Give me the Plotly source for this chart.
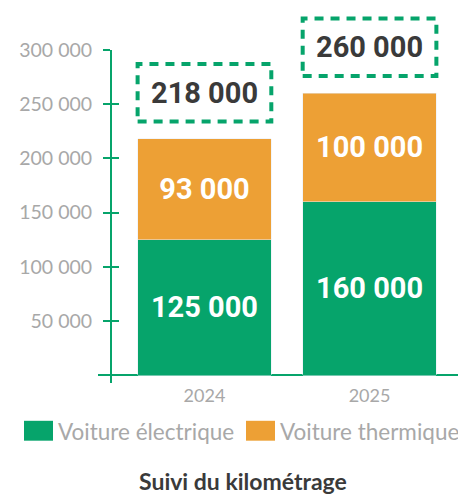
import plotly.graph_objects as go

# ---- data ----
categories = ["2024", "2025"]
electrique = [125000, 160000]
thermique = [93000, 100000]
series_names = ["Voiture électrique", "Voiture thermique"]
tick_values = [50000, 100000, 150000, 200000, 250000, 300000]
title_text = "Suivi du kilométrage"

totals = [e + t for e, t in zip(electrique, thermique)]

GREEN = "#06a46b"
ORANGE = "#eda035"
GRAY = "#a8a8a8"
DARK = "#3a3a3a"
LABEL_FONT = "Roboto, sans-serif"
AXIS_FONT = "Lato, Noto Sans, sans-serif"

Y_MIN, Y_MAX = -7300, 335000
AXIS_TOP = 300000
dom_top = (AXIS_TOP - Y_MIN) / (Y_MAX - Y_MIN)

fig = go.Figure()
fig.add_bar(
    x=categories, y=electrique, name=series_names[0], marker_color=GREEN,
    texttemplate="%{y:,.0f}", textposition="inside", insidetextanchor="middle",
    textfont=dict(family=LABEL_FONT, size=29, color="white", weight="bold"),
    showlegend=False, hoverinfo="skip",
)
fig.add_bar(
    x=categories, y=thermique, name=series_names[1], marker_color=ORANGE,
    texttemplate="%{y:,.0f}", textposition="inside", insidetextanchor="middle",
    textfont=dict(family=LABEL_FONT, size=29, color="white", weight="bold"),
    showlegend=False, hoverinfo="skip",
)
# dummy traces so the decorative axes get drawn
fig.add_scatter(x=[], y=[], yaxis="y2", showlegend=False)
fig.add_scatter(x=[], y=[], yaxis="y3", showlegend=False)

# totals in dashed boxes
half = 0.405
for i, tot in enumerate(totals):
    fig.add_shape(
        type="rect", xref="x", yref="y",
        x0=i - half, x1=i + half, y0=tot + 16000, y1=tot + 69000,
        line=dict(color=GREEN, width=4, dash="9px,7px"), layer="above",
    )
    fig.add_annotation(
        x=i, y=tot + 42500, xref="x", yref="y",
        text=f"{tot:,}".replace(",", " "), showarrow=False,
        font=dict(family=LABEL_FONT, size=29, color=DARK, weight="bold"),
    )

# legend drawn manually (large swatches)
L, T, PW, PH = 98, 10, 360, 373
def px(xp):
    return (xp - L) / PW
def py(yp):
    return (T + PH - yp) / PH

legend_items = [(series_names[0], GREEN, 24), (series_names[1], ORANGE, 246)]
for name, col, x0 in legend_items:
    fig.add_shape(type="rect", xref="paper", yref="paper",
                  x0=px(x0), x1=px(x0 + 29), y0=py(441), y1=py(421),
                  fillcolor=col, line=dict(width=0))
    fig.add_annotation(xref="paper", yref="paper", x=px(x0 + 32), y=py(432),
                       xanchor="left", yanchor="middle", text=name, showarrow=False,
                       font=dict(family=AXIS_FONT, size=22.5, color=GRAY))

fig.add_annotation(xref="paper", yref="paper", x=px(242.5), y=py(482),
                   xanchor="center", yanchor="middle", text=title_text, showarrow=False,
                   font=dict(family=AXIS_FONT, size=23, color=DARK, weight="bold"))

fig.update_layout(
    width=458, height=495,
    margin=dict(l=L, r=0, t=T, b=495 - T - PH),
    paper_bgcolor="white", plot_bgcolor="rgba(0,0,0,0)",
    barmode="stack", bargap=0.19,
    separators=", ",
    xaxis=dict(type="category", range=[-0.645, 1.536], showline=False, ticks="",
               showgrid=False, zeroline=False,
               tickfont=dict(family=AXIS_FONT, size=18, color=GRAY)),
    yaxis=dict(range=[Y_MIN, Y_MAX], showgrid=False, showline=False,
               showticklabels=False, ticks="",
               zeroline=True, zerolinecolor=GREEN, zerolinewidth=2),
    yaxis2=dict(domain=[0, dom_top], range=[Y_MIN, AXIS_TOP], anchor="free",
                position=(111 - L) / PW, showgrid=False, zeroline=False,
                showline=True, linecolor=GREEN, linewidth=2,
                ticks="outside", ticklen=7, tickwidth=2, tickcolor=GREEN,
                tickvals=tick_values, tickformat=",.0f", ticklabelstandoff=7,
                tickfont=dict(family=AXIS_FONT, size=19.5, color=GRAY)),
    yaxis3=dict(overlaying="y2", range=[Y_MIN, AXIS_TOP], anchor="free",
                position=(111 - L) / PW, showgrid=False, zeroline=False,
                showline=False, ticks="inside", ticklen=7, tickwidth=2,
                tickcolor=GREEN, tickvals=tick_values, showticklabels=False),
)

fig.write_html("out.html", config={"displayModeBar": False},
               post_script="document.body.style.margin='0';")
